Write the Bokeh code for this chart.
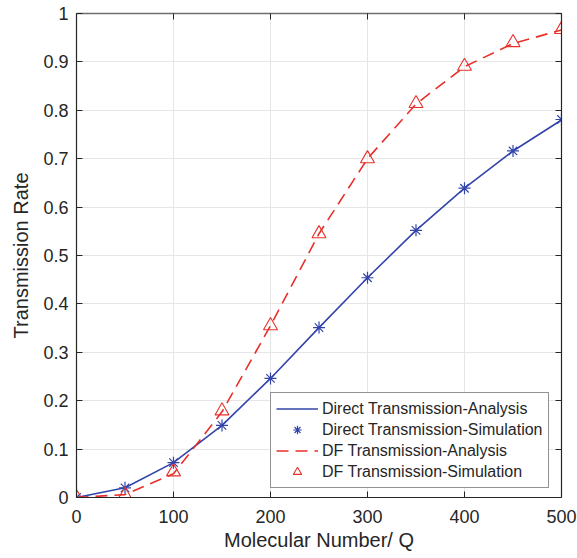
from bokeh.plotting import figure
from bokeh.models import Range1d, LinearAxis, FixedTicker, CustomJSTickFormatter, Legend, LegendItem
from bokeh.embed import file_html
from bokeh.resources import INLINE

# data
q = [0, 50, 100, 150, 200, 250, 300, 350, 400, 450, 500]
direct_analysis = [0.0, 0.02, 0.072, 0.149, 0.246, 0.351, 0.454, 0.552, 0.639, 0.716, 0.780]
direct_sim = [0.0, 0.02, 0.072, 0.149, 0.246, 0.351, 0.454, 0.552, 0.639, 0.716, 0.781]
df_analysis = [0.0, 0.006, 0.049, 0.177, 0.355, 0.545, 0.700, 0.813, 0.890, 0.938, 0.966]
df_sim = [0.0, 0.005, 0.053, 0.179, 0.355, 0.545, 0.700, 0.814, 0.891, 0.940, 0.967]
x_ticks = [0, 100, 200, 300, 400, 500]
y_ticks = [0, 0.1, 0.2, 0.3, 0.4, 0.5, 0.6, 0.7, 0.8, 0.9, 1.0]

BLUE = "#3344aa"
RED = "#e8302a"
DARK = "#262626"
FONT = "Liberation Sans"

p = figure(width=577, height=558, output_backend="svg", toolbar_location=None,
           x_range=Range1d(0, 500), y_range=Range1d(0, 1),
           min_border_left=76, min_border_right=16, min_border_top=13, min_border_bottom=61)
p.background_fill_color = "white"
p.border_fill_color = "white"
p.outline_line_color = None

fmt = CustomJSTickFormatter(code="return String(Number(tick.toFixed(2)));")
blank = CustomJSTickFormatter(code="return '';")

for ax in (p.xaxis[0], p.yaxis[0]):
    ax.axis_line_color = DARK
    ax.axis_line_width = 1.2
    ax.major_tick_in = 6
    ax.major_tick_out = 0
    ax.minor_tick_line_color = None
    ax.major_tick_line_color = DARK
    ax.major_label_text_font = FONT
    ax.major_label_text_font_size = "18px"
    ax.major_label_text_color = DARK
    ax.axis_label_text_font = FONT
    ax.axis_label_text_font_size = "20px"
    ax.axis_label_text_font_style = "normal"
    ax.axis_label_text_color = DARK
    ax.formatter = fmt

p.xaxis[0].ticker = FixedTicker(ticks=x_ticks)
p.yaxis[0].ticker = FixedTicker(ticks=y_ticks)
p.xaxis[0].axis_label = "Molecular Number/ Q"
p.yaxis[0].axis_label = "Transmission Rate"
p.xaxis[0].major_label_standoff = 12
p.yaxis[0].major_label_standoff = 8
p.xaxis[0].axis_label_standoff = 3
p.yaxis[0].axis_label_standoff = 8

top = LinearAxis(ticker=FixedTicker(ticks=x_ticks), formatter=blank, major_label_standoff=0,
                 axis_line_color="#6e6e6e", axis_line_width=1.5, major_tick_in=6, major_tick_out=0,
                 minor_tick_line_color=None, major_tick_line_color=DARK)
right = LinearAxis(ticker=FixedTicker(ticks=y_ticks), formatter=blank, major_label_standoff=0,
                   axis_line_color=DARK, axis_line_width=1.2, major_tick_in=6, major_tick_out=0,
                   minor_tick_line_color=None, major_tick_line_color=DARK)
p.add_layout(top, "above")
p.add_layout(right, "right")

p.xgrid.ticker = FixedTicker(ticks=x_ticks)
p.ygrid.ticker = FixedTicker(ticks=y_ticks)
p.xgrid.grid_line_color = "#e6e6e6"
p.ygrid.grid_line_color = "#e6e6e6"

r1 = p.line(q, direct_analysis, line_color=BLUE, line_width=1.6)
r2 = p.scatter(q, direct_sim, marker="asterisk", size=12, line_color=BLUE, line_width=1.2)
r3 = p.line(q, df_analysis, line_color=RED, line_width=1.6, line_dash="12 7")
r4 = p.scatter(q, df_sim, marker="triangle", size=14, line_color=RED, fill_color=None, line_width=1.1)

legend = Legend(items=[
    LegendItem(label="Direct Transmission-Analysis", renderers=[r1]),
    LegendItem(label="Direct Transmission-Simulation", renderers=[r2]),
    LegendItem(label="DF Transmission-Analysis", renderers=[r3]),
    LegendItem(label="DF Transmission-Simulation", renderers=[r4]),
], location=(194, 9))
legend.label_text_font = FONT
legend.label_text_font_size = "16px"
legend.label_text_color = DARK
legend.glyph_width = 42
legend.glyph_height = 21
legend.label_height = 21
legend.label_standoff = 4
legend.spacing = 0
legend.padding = 5
legend.margin = 0
legend.border_line_color = DARK
legend.border_line_width = 1
legend.background_fill_color = "white"
legend.background_fill_alpha = 1
p.add_layout(legend, "center")

open("out.html", "w").write(file_html(p, INLINE))
